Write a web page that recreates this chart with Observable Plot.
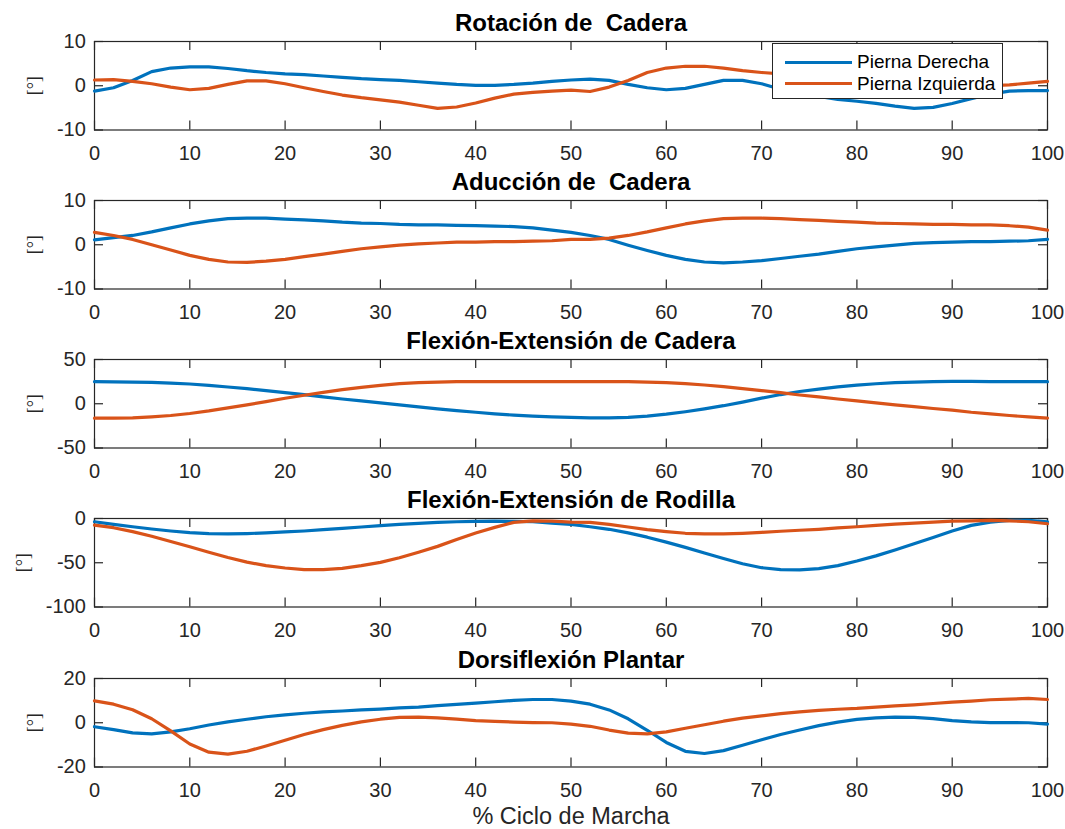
<!DOCTYPE html>
<html>
<head>
<meta charset="utf-8">
<script src="https://cdn.jsdelivr.net/npm/d3@7"></script>
<script src="https://cdn.jsdelivr.net/npm/@observablehq/plot@0.6"></script>
<style>
  html, body { margin: 0; padding: 0; background: #fff; }
  #fig { position: relative; width: 1065px; height: 829px; overflow: hidden; background: #fff;
         font-family: "Liberation Sans", Arial, Helvetica, sans-serif; }
  #fig svg { position: absolute; left: 0; }
  #legend { position: absolute; background: #fff; border: 1px solid #262626; box-sizing: border-box; }
  #legend .row { position: absolute; left: 0; right: 0; height: 0; }
  #legend .swatch { position: absolute; height: 3px; margin-top: -1.5px; }
  #legend .lab { position: absolute; font-size: 19px; line-height: 19px; margin-top: -10px; color: #000; white-space: nowrap; }
</style>
</head>
<body>
<div id="fig"></div>
<script>
// ---------------- data ----------------
const pct = [0,2,4,6,8,10,12,14,16,18,20,22,24,26,28,30,32,34,36,38,40,42,44,46,48,50,
             52,54,56,58,60,62,64,66,68,70,72,74,76,78,80,82,84,86,88,90,92,94,96,98,100];

const seriesNames = ["Pierna Derecha", "Pierna Izquierda"];
const titles = ["Rotación de  Cadera", "Aducción de  Cadera", "Flexión-Extensión de Cadera",
                "Flexión-Extensión de Rodilla", "Dorsiflexión Plantar"];
const yLabel = "[°]";
const xLabel = "% Ciclo de Marcha";
const xTicks = [0,10,20,30,40,50,60,70,80,90,100];
const yDomains = [[-10,10],[-10,10],[-50,50],[-100,0],[-20,20]];
const yTicks = [[-10,0,10],[-10,0,10],[-50,0,50],[-100,-50,0],[-20,0,20]];

// Rotación de Cadera
const rotDer = [-1.2,-0.45,1.2,3.2,4.0,4.25,4.25,3.9,3.4,3.0,2.7,2.5,2.2,1.9,1.6,1.4,1.2,0.9,0.6,0.3,0.1,
                0.1,0.3,0.6,1.0,1.3,1.5,1.2,0.3,-0.45,-0.9,-0.6,0.3,1.2,1.2,0.45,-0.8,-1.7,-2.4,-3.1,-3.5,
                -4.0,-4.6,-5.1,-4.9,-4.0,-2.9,-1.9,-1.2,-1.1,-1.1];
const rotIzq = [1.3,1.4,1.0,0.45,-0.3,-0.9,-0.6,0.3,1.1,1.1,0.45,-0.45,-1.3,-2.1,-2.7,-3.2,-3.7,-4.4,-5.1,-4.8,-3.9,
                -2.8,-1.9,-1.5,-1.2,-1.0,-1.3,-0.3,1.2,3.0,4.0,4.4,4.4,4.0,3.4,3.0,2.7,2.3,1.9,1.5,1.2,
                0.9,0.7,0.5,0.3,0.2,0.1,0.0,0.2,0.6,1.0];
// Aducción de Cadera
const aduDer = [1.1,1.6,2.1,2.9,3.8,4.7,5.4,5.9,6.0,6.0,5.8,5.6,5.4,5.1,4.9,4.8,4.6,4.5,4.5,4.4,4.3,
                4.2,4.1,3.8,3.3,2.8,2.1,1.2,-0.1,-1.3,-2.4,-3.3,-3.9,-4.1,-3.9,-3.6,-3.1,-2.6,-2.1,-1.5,-0.9,
                -0.5,-0.1,0.3,0.5,0.6,0.7,0.7,0.8,0.9,1.2];
const aduIzq = [2.8,2.1,1.2,0.0,-1.2,-2.4,-3.3,-3.9,-4.0,-3.7,-3.3,-2.7,-2.1,-1.5,-0.9,-0.5,-0.1,0.2,0.4,0.6,0.6,
                0.7,0.7,0.8,0.9,1.2,1.2,1.5,2.1,2.9,3.8,4.7,5.4,5.9,6.0,6.0,5.9,5.7,5.5,5.3,5.1,
                4.9,4.8,4.7,4.6,4.6,4.5,4.5,4.3,4.0,3.3];
// Flexión-Extensión de Cadera
const fcaDer = [24.9,24.8,24.5,24.2,23.4,22.3,20.8,18.9,17.0,14.8,12.5,10.3,7.7,5.4,3.2,0.9,-1.3,-3.6,-5.8,-7.7,-9.6,
                -11.4,-12.9,-14.0,-14.8,-15.5,-15.9,-15.9,-15.5,-14.0,-11.8,-9.0,-5.8,-2.2,1.9,6.3,10.4,13.8,16.6,19.0,21.0,
                22.6,23.8,24.5,25.0,25.3,25.3,25.1,24.9,24.9,24.9];
const fcaIzq = [-16.3,-16.3,-15.9,-14.8,-13.3,-11.0,-8.1,-4.7,-1.3,2.4,6.2,9.6,12.9,15.9,18.5,20.8,22.7,23.8,24.5,24.9,25.0,
                25.0,24.9,24.9,24.9,24.9,24.9,24.9,24.9,24.5,23.8,22.7,21.2,19.3,17.0,14.8,12.5,9.9,7.7,5.4,3.2,
                0.9,-1.3,-3.2,-5.4,-7.3,-9.6,-11.4,-13.3,-14.8,-16.3];
// Flexión-Extensión de Rodilla
const froDer = [-3.7,-6.7,-9.3,-11.9,-14.1,-15.9,-17.0,-17.4,-17.0,-16.3,-15.2,-14.1,-12.6,-11.1,-9.6,-8.1,-6.7,-5.6,-4.4,-3.7,-3.3,
                -3.0,-3.3,-3.7,-5.2,-6.7,-9.3,-12.2,-16.3,-21.1,-26.7,-32.6,-38.9,-45.2,-51.1,-55.6,-57.8,-58.1,-56.7,-53.3,-48.1,
                -42.2,-35.6,-28.5,-21.5,-14.1,-7.8,-4.1,-2.2,-2.2,-3.7];
const froIzq = [-7.4,-10.4,-14.8,-20.0,-25.9,-31.9,-38.1,-44.1,-49.3,-53.3,-55.9,-57.8,-57.8,-56.3,-53.3,-49.6,-44.4,-38.1,-31.5,-23.7,-16.3,
                -10.0,-4.4,-2.6,-3.0,-4.1,-4.4,-6.7,-9.6,-12.6,-14.8,-16.7,-17.4,-17.4,-16.7,-15.6,-14.4,-13.3,-12.2,-10.7,-9.3,
                -7.8,-6.3,-5.2,-4.1,-3.0,-2.6,-2.2,-2.6,-3.7,-5.9];
// Dorsiflexión Plantar
const dorDer = [-1.8,-3.1,-4.6,-5.0,-4.1,-2.7,-1.0,0.4,1.6,2.7,3.6,4.3,4.9,5.3,5.8,6.2,6.7,7.1,7.7,8.3,8.9,
                9.5,10.1,10.5,10.5,9.8,8.4,5.8,1.8,-3.4,-8.9,-12.9,-13.9,-12.6,-10.2,-7.7,-5.3,-3.3,-1.3,0.3,1.5,
                2.2,2.5,2.4,1.9,1.0,0.4,0.1,0.1,0.0,-0.6];
const dorIzq = [9.9,8.4,5.9,1.8,-3.7,-9.6,-13.3,-14.2,-12.9,-10.5,-7.9,-5.3,-3.1,-1.2,0.4,1.6,2.4,2.5,2.2,1.6,1.0,
                0.6,0.3,0.1,0.0,-0.6,-1.6,-3.3,-4.7,-5.0,-4.1,-2.5,-0.9,0.7,2.1,3.1,4.1,4.9,5.6,6.1,6.5,
                7.1,7.6,8.1,8.7,9.3,9.8,10.4,10.7,11.0,10.5];

const derSeries = [rotDer, aduDer, fcaDer, froDer, dorDer];
const izqSeries = [rotIzq, aduIzq, fcaIzq, froIzq, dorIzq];

// ---------------- layout / style ----------------
const W = 1065, ML = 94, MR = 18, PH = 88.5, PW = W - ML - MR;
const axesTop = [40.7, 199.9, 359.1, 518.3, 677.5];
const yLabelX = [34, 34, 34, 22.5, 34];
const AX = "#262626";
const BLUE = "#0072BD", ORANGE = "#D95319";
const TICK = 9;

const fig = document.getElementById("fig");

for (let i = 0; i < 5; i++) {
  const mt = 45, mb = (i === 4) ? 70 : 45;
  const rows = pct.map((p, j) => ({p, der: derSeries[i][j], izq: izqSeries[i][j]}));
  const svg = Plot.plot({
    width: W, height: mt + PH + mb,
    marginTop: mt, marginBottom: mb, marginLeft: ML, marginRight: MR,
    style: {background: "transparent", overflow: "visible",
            fontFamily: "'Liberation Sans', Arial, Helvetica, sans-serif"},
    x: {domain: [0, 100]},
    y: {domain: yDomains[i]},
    marks: [
      Plot.frame({stroke: AX, strokeWidth: 1.2}),
      Plot.tickX(xTicks, {x: d => d, insetBottom: PH - TICK, stroke: AX, strokeWidth: 1.2}),
      Plot.tickX(xTicks, {x: d => d, insetTop: PH - TICK, stroke: AX, strokeWidth: 1.2}),
      Plot.tickY(yTicks[i], {y: d => d, insetRight: PW - TICK, stroke: AX, strokeWidth: 1.2}),
      Plot.tickY(yTicks[i], {y: d => d, insetLeft: PW - TICK, stroke: AX, strokeWidth: 1.2}),
      Plot.axisX({ticks: xTicks, tickSize: 0, tickPadding: 16, fontSize: 20, color: AX,
                  label: null, tickFormat: d => String(d)}),
      Plot.axisY({ticks: yTicks[i], tickSize: 0, tickPadding: 8.7, fontSize: 20, color: AX,
                  label: null, tickFormat: d => String(d)}),
      Plot.line(rows, {x: "p", y: "der", stroke: BLUE, strokeWidth: 3.2, strokeLinejoin: "round"}),
      Plot.line(rows, {x: "p", y: "izq", stroke: ORANGE, strokeWidth: 3.2, strokeLinejoin: "round"}),
      Plot.text([titles[i]], {frameAnchor: "top", text: d => d.replace(/  /g, " \u00a0"), dy: -11,
                              lineAnchor: "bottom", fontSize: 24, fontWeight: "bold", fill: "#000"}),
      Plot.text([yLabel], {frameAnchor: "left", text: d => d, dx: yLabelX[i] - ML, rotate: -90,
                           textAnchor: "middle", lineAnchor: "middle", fontSize: 18, fill: AX,
                           fontFamily: "'Liberation Serif', serif"}),
      ...(i === 4 ? [Plot.text([xLabel], {frameAnchor: "bottom", text: d => d, dy: 57,
                                          lineAnchor: "bottom", fontSize: 23.5, fill: AX})] : [])
    ]
  });
  svg.style.top = (axesTop[i] - mt) + "px";
  fig.appendChild(svg);
}

// legend (in subplot 1)
const leg = document.createElement("div");
leg.id = "legend";
Object.assign(leg.style, {left: "772px", top: "43px", width: "231px", height: "56px"});
const colors = [BLUE, ORANGE];
const rowY = [18, 39.5];
seriesNames.forEach((name, k) => {
  const row = document.createElement("div");
  row.className = "row";
  row.style.top = rowY[k] + "px";
  const sw = document.createElement("div");
  sw.className = "swatch";
  Object.assign(sw.style, {left: "12px", width: "67px", background: colors[k]});
  const lab = document.createElement("div");
  lab.className = "lab";
  lab.style.left = "84px";
  lab.textContent = name;
  row.appendChild(sw); row.appendChild(lab);
  leg.appendChild(row);
});
fig.appendChild(leg);
</script>
</body>
</html>
